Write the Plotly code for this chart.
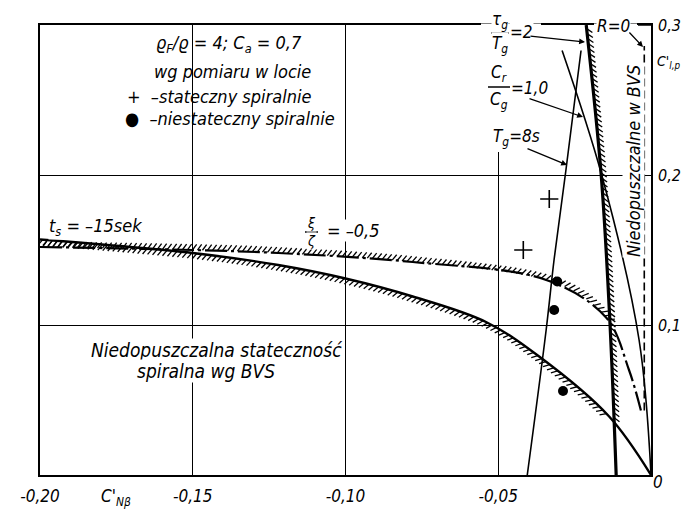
import numpy as np
import plotly.graph_objects as go

# ---------------- data ----------------
# solid boundary  t_s = -15 sek
cn_ts = [-0.200, -0.150, -0.122, -0.100, -0.078, -0.054, -0.0366, -0.0137, 0.000]
cl_ts = [0.157, 0.148, 0.140, 0.131, 0.119, 0.102, 0.079, 0.039, 0.000]
# dash-dot boundary  xi/zeta = -0.5
cn_xi = [-0.200, -0.150, -0.122, -0.078, -0.0343, -0.0147, -0.0072, -0.0033]
cl_xi = [0.152, 0.150, 0.148, 0.142, 0.130, 0.105, 0.070, 0.043]
# R = 0 (thick, hatched)
cn_r0 = [-0.0114, -0.0134, -0.0163, -0.0212]
cl_r0 = [0.000, 0.100, 0.200, 0.300]
# Cr/Cg = 1.0
cn_cr = [0.000, -0.0039, -0.0160, -0.0291]
cl_cr = [0.000, 0.090, 0.199, 0.283]
# Tg = 8 s
cn_tg = [-0.0405, -0.0343, -0.0317, -0.0278, -0.0229]
cl_tg = [0.000, 0.097, 0.144, 0.204, 0.283]
# limit "Niedopuszczalne w BVS"
cn_bvs = [-0.0022, -0.0022]
cl_bvs = [0.043, 0.286]
# flight measurements
cn_plus = [-0.0333, -0.0418]
cl_plus = [0.184, 0.150]
cn_dot = [-0.0307, -0.0317, -0.0288]
cl_dot = [0.129, 0.110, 0.056]

x_ticks = [-0.20, -0.15, -0.10, -0.05]
x_ticktext = ["-0,20", "-0,15", "-0,10", "-0,05"]
y_ticks = [0.1, 0.2, 0.3]
y_ticktext = ["0,1", "0,2", "0,3"]

# ---------------- layout geometry ----------------
WIDTH, HEIGHT = 681, 511
L, R, T, B = 40, 651, 25, 475
PW, PH = R - L, B - T
SX = PW / 0.2
SY = PH / 0.3
FONT = "DejaVu Sans Condensed, DejaVu Sans, sans-serif"


def P(px, py):
    return (px - L) / PW, (B - py) / PH


def catmull(px, py, n=30):
    Pt = np.column_stack([px, py])
    Pt = np.vstack([2 * Pt[0] - Pt[1], Pt, 2 * Pt[-1] - Pt[-2]])
    out = []
    for i in range(1, len(Pt) - 2):
        p0, p1, p2, p3 = Pt[i - 1], Pt[i], Pt[i + 1], Pt[i + 2]
        for t in np.linspace(0, 1, n, endpoint=False):
            t2, t3 = t * t, t * t * t
            out.append(0.5 * (2 * p1 + (-p0 + p2) * t + (2 * p0 - 5 * p1 + 4 * p2 - p3) * t2
                              + (-p0 + 3 * p1 - 3 * p2 + p3) * t3))
    out.append(Pt[-2])
    return np.array(out)


def hatch(xs, ys, side, ang, length=7.0, step=5.0, keep=lambda x, y: True):
    px = (np.array(xs) + 0.2) * SX
    py = np.array(ys) * SY
    C = catmull(px, py)
    seg = np.diff(C, axis=0)
    d = np.hypot(seg[:, 0], seg[:, 1])
    s = np.concatenate([[0], np.cumsum(d)])
    hx, hy = [], []
    a = np.radians(ang)
    for tt in np.arange(step / 2, s[-1], step):
        i = int(np.clip(np.searchsorted(s, tt) - 1, 0, len(d) - 1))
        f = (tt - s[i]) / d[i]
        p = C[i] + f * seg[i]
        tan = seg[i] / d[i]
        nrm = np.array([-tan[1], tan[0]]) * side
        dv = nrm * np.cos(a) + tan * np.sin(a)
        q = p + dv * length
        x0, y0 = p[0] / SX - 0.2, p[1] / SY
        if not keep(x0, y0):
            continue
        hx += [x0, q[0] / SX - 0.2, None]
        hy += [y0, q[1] / SY, None]
    return hx, hy


fig = go.Figure()

# hatching
hx, hy = hatch(cn_ts, cl_ts, -1, -35, 7, 5, keep=lambda x, y: x <= -0.0137)
fig.add_trace(go.Scatter(x=hx, y=hy, mode="lines", line=dict(color="black", width=1.3), hoverinfo="skip"))
hx, hy = hatch(cn_xi, cl_xi, 1, 35, 7, 5, keep=lambda x, y: x <= -0.0137)
fig.add_trace(go.Scatter(x=hx, y=hy, mode="lines", line=dict(color="black", width=1.3), hoverinfo="skip"))
hx, hy = hatch(cn_r0, cl_r0, -1, -40, 7, 5, keep=lambda x, y: y >= 0.037)
fig.add_trace(go.Scatter(x=hx, y=hy, mode="lines", line=dict(color="black", width=1.3), hoverinfo="skip"))

# curves
fig.add_trace(go.Scatter(x=cn_ts, y=cl_ts, mode="lines", line=dict(color="black", width=2.4, shape="spline")))
fig.add_trace(go.Scatter(x=cn_xi, y=cl_xi, mode="lines",
                         line=dict(color="black", width=2.2, shape="spline", dash="22px,4px,3px,4px")))
fig.add_trace(go.Scatter(x=cn_r0, y=cl_r0, mode="lines", line=dict(color="black", width=3.2, shape="spline")))
fig.add_trace(go.Scatter(x=cn_cr, y=cl_cr, mode="lines", line=dict(color="black", width=1.6, shape="spline")))
fig.add_trace(go.Scatter(x=cn_tg, y=cl_tg, mode="lines", line=dict(color="black", width=1.6, shape="spline")))
fig.add_trace(go.Scatter(x=cn_bvs, y=cl_bvs, mode="lines", line=dict(color="black", width=1.6, dash="8px,4px")))

# markers
fig.add_trace(go.Scatter(x=cn_plus, y=cl_plus, mode="markers",
                         marker=dict(symbol="cross-thin", size=13, line=dict(color="black", width=1.6))))
fig.add_trace(go.Scatter(x=cn_dot, y=cl_dot, mode="markers", marker=dict(symbol="circle", size=10, color="black")))

ann = []


def txt(px, py, s, size=15, bg=None, anchor="center", angle=0):
    x, y = P(px, py)
    d = dict(xref="paper", yref="paper", x=x, y=y, text=s, showarrow=False, xanchor=anchor, yanchor="middle",
             font=dict(family=FONT, size=size, color="black", style="italic"), textangle=angle, borderpad=0)
    if bg:
        d["bgcolor"] = bg
    ann.append(d)


def arrow(hx_, hy_, tx, ty):
    x, y = P(hx_, hy_)
    ann.append(dict(xref="paper", yref="paper", x=x, y=y, ax=tx - hx_, ay=ty - hy_, text="", showarrow=True,
                    arrowhead=2, arrowsize=0.9, arrowwidth=1.3, arrowcolor="black"))


# top block
txt(229, 44, "ϱ<sub>F</sub>/ϱ = 4; C<sub>a</sub> = 0,7", 18)
txt(232, 71, "wg pomiaru w locie", 18)
txt(219, 96, "+  –stateczny spiralnie", 18)
txt(230, 118, "●  –niestateczny spiralnie", 18)

txt(95, 227, "t<sub>s</sub> = –15sek", 18, bg="white")
txt(216, 350, "Niedopuszczalna stateczność", 19, bg="white")
txt(206, 371, "spiralna wg BVS", 19, bg="white")

# xi/zeta label
txt(311, 223, "ξ", 14, bg="white")
txt(311, 241, "ζ", 14, bg="white")
txt(326, 231, "= –0,5", 18, bg="white", anchor="left")

# tau_g/T_g
txt(500, 20, "τ<sub>g</sub>", 17, bg="white")
txt(500, 45, "T<sub>g</sub>", 17, bg="white")
txt(509, 32, "=2", 17, bg="white", anchor="left")
# Cr/Cg
txt(499, 73, "C<sub>r</sub>", 17, bg="white")
txt(499, 101, "C<sub>g</sub>", 17, bg="white")
txt(510, 88, "=1,0", 17, bg="white", anchor="left")
# Tg = 8s
txt(516, 137, "T<sub>g</sub>=8s", 17, bg="white")
# R = 0
txt(613, 26, "R=0", 17, bg="white")

txt(634, 161, "Niedopuszczalne w BVS", 18, bg="white", angle=-90)

# axis titles and corner
txt(116, 497, "C'<sub>Nβ</sub>", 17)
txt(658, 482, "0", 17)
txt(656, 62, "C'<sub>l,p</sub>", 14, anchor="left")

arrow(585, 42, 529, 36)
arrow(583, 117, 528, 98)
arrow(567, 165, 526, 148)
arrow(643, 47, 628, 31)

shapes = []


def pline(x0, y0, x1, y1, color="black", w=1.5):
    a0 = P(x0, y0)
    a1 = P(x1, y1)
    shapes.append(dict(type="line", xref="paper", yref="paper", x0=a0[0], y0=a0[1], x1=a1[0], y1=a1[1],
                       line=dict(color=color, width=w), layer="above"))


# gaps in the frame / grid where the labels sit
pline(499, 27, 499, 152, "white", 3)
pline(481, 25, 541, 25, "white", 3)
pline(594, 25, 637, 25, "white", 3)
# fraction bars
for (x0, x1, yy) in [(491, 509, 33), (488, 510, 87), (305, 318, 232)]:
    pline(x0, yy, x1, yy)
# small tick at the top right corner
pline(638, 25, 651, 25)

axis_common = dict(showgrid=True, gridcolor="black", gridwidth=1.2, zeroline=False, showline=True,
                   linecolor="black", linewidth=1.8, mirror=True, ticks="", ticklen=0, automargin=False)

fig.update_layout(
    width=WIDTH, height=HEIGHT,
    margin=dict(l=L, r=WIDTH - R, t=T, b=HEIGHT - B, autoexpand=False),
    paper_bgcolor="white", plot_bgcolor="white",
    showlegend=False,
    annotations=ann, shapes=shapes,
    xaxis=dict(range=[-0.2, 0.0], tickvals=x_ticks, ticktext=x_ticktext, ticklabelstandoff=5,
               tickfont=dict(family=FONT, size=17, color="black", style="italic"), **axis_common),
    yaxis=dict(range=[0.0, 0.3], tickvals=y_ticks, ticktext=y_ticktext, side="right", ticklabelstandoff=2,
               tickfont=dict(family=FONT, size=16, color="black", style="italic"), **axis_common),
)

fig.write_html("out.html")
